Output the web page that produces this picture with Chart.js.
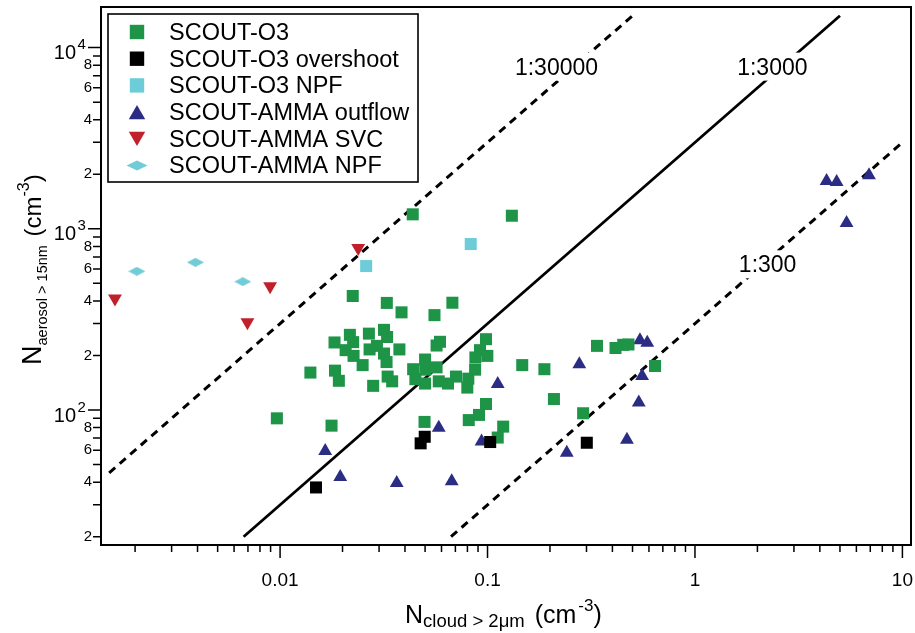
<!DOCTYPE html>
<html>
<head>
<meta charset="utf-8">
<script src="https://cdn.jsdelivr.net/npm/chart.js@4.4.1/dist/chart.umd.min.js"></script>
<style>
html,body{margin:0;padding:0;background:#fff;}
#wrap{width:915px;height:633px;position:relative;}
</style>
</head>
<body>
<div id="wrap"><canvas id="c" width="915" height="633"></canvas></div>
<script>
// ---------------- data ----------------
const SERIES_NAMES = ['SCOUT-O3', 'SCOUT-O3 overshoot', 'SCOUT-O3 NPF', 'SCOUT-AMMA outflow', 'SCOUT-AMMA SVC', 'SCOUT-AMMA NPF'];

const O3_X = [0.0436, 0.131, 0.0224, 0.0327, 0.0385, 0.0555, 0.0677, 0.0183, 0.0217, 0.0225, 0.0268, 0.0317, 0.0328, 0.0207, 0.0226, 0.0250, 0.0270, 0.0293, 0.0317, 0.0326, 0.0376, 0.0140, 0.0184, 0.0192, 0.0281, 0.0330, 0.0347, 0.0438, 0.0449, 0.0500, 0.0501, 0.0500, 0.0568, 0.0582, 0.0645, 0.0705, 0.0568, 0.0590, 0.0808, 0.0799, 0.0871, 0.0874, 0.0998, 0.0920, 0.0983, 0.147, 0.188, 0.209, 0.289, 0.337, 0.414, 0.451, 0.478, 0.642, 0.00965, 0.0177, 0.0497, 0.0983, 0.0910, 0.0812, 0.119, 0.112];
const O3_Y = [1202, 1181, 426, 390, 346, 334, 391, 236, 260, 237, 264, 277, 253, 214, 199, 177, 216, 226, 205, 184, 216, 161, 165, 145, 136, 153, 144, 168, 148, 190, 167, 140, 172, 144, 140, 153, 227, 238, 149, 133, 167, 195, 199, 214, 246, 177, 168, 115, 96, 226, 220, 229, 230, 175, 90, 82, 86, 108, 94, 88, 81, 70.5];

const OVERSHOOT_X = [0.0149, 0.0476, 0.0498, 0.103, 0.301];
const OVERSHOOT_Y = [37.4, 65.5, 71.2, 66.6, 66.0];

const O3_NPF_X = [0.0260, 0.0830];
const O3_NPF_Y = [623, 824];

const OUTFLOW_X = [0.0165, 0.0195, 0.0365, 0.0672, 0.0582, 0.112, 0.0936, 0.241, 0.277, 0.470, 0.536, 0.556, 0.543, 0.589, 4.31, 4.82, 6.90, 5.38];
const OUTFLOW_Y = [59.4, 42.7, 39.6, 40.4, 79.9, 139, 67.0, 58.1, 179, 68.6, 110, 154, 243, 235, 1835, 1812, 1974, 1077];

const SVC_X = [0.00160, 0.00696, 0.00895, 0.0238];
const SVC_Y = [412, 305, 482, 783];

const AMMA_NPF_X = [0.00204, 0.00391, 0.00661];
const AMMA_NPF_Y = [583, 653, 511];

// ratio lines (end points)
const LINE_30000_X = [0.0015, 0.5];
const LINE_30000_Y = [45, 15000];
const LINE_3000_X = [0.00667, 5];
const LINE_3000_Y = [20, 15000];
const LINE_300_X = [0.0667, 10];
const LINE_300_Y = [20, 3000];

const LINE_LABELS = ['1:30000', '1:3000', '1:300'];
const LINE_LABEL_X = [0.215, 2.36, 2.24];
const LINE_LABEL_Y = [7850, 7850, 637];

// axes
const X_MIN = 0.00137, X_MAX = 11.0;
const Y_MIN = 18.0, Y_MAX = 16750;
const X_MAJOR_TICKS = [0.01, 0.1, 1, 10];
const X_MAJOR_LABELS = ['0.01', '0.1', '1', '10'];
const X_MINOR_TICKS = [0.002, 0.003, 0.004, 0.005, 0.006, 0.007, 0.008, 0.009,
  0.02, 0.03, 0.04, 0.05, 0.06, 0.07, 0.08, 0.09,
  0.2, 0.3, 0.4, 0.5, 0.6, 0.7, 0.8, 0.9,
  2, 3, 4, 5, 6, 7, 8, 9];
const Y_MAJOR_TICKS = [100, 1000, 10000];
const Y_MAJOR_BASES = ['10', '10', '10'];
const Y_MAJOR_EXPONENTS = ['2', '3', '4'];
const Y_MINOR_TICKS = [20, 30, 40, 50, 60, 70, 80, 90,
  200, 300, 400, 500, 600, 700, 800, 900,
  2000, 3000, 4000, 5000, 6000, 7000, 8000, 9000];
const Y_MINOR_LABELS = ['2', '', '4', '', '6', '', '8', '',
  '2', '', '4', '', '6', '', '8', '',
  '2', '', '4', '', '6', '', '8', ''];

// ---------------- styling ----------------
const FONT = '"Liberation Sans", Arial, Helvetica, sans-serif';
const GREEN = '#1e9447', BLACK = '#000000', CYAN_SQ = '#6ccdd9', NAVY = '#2b2d85', RED = '#c1202a', CYAN_DIA = '#72ccd8';

function pts(xs, ys) { return xs.map((v, i) => ({ x: v, y: ys[i] })); }

function diamondCanvas(w, h, color) {
  const c = document.createElement('canvas');
  c.width = w; c.height = h;
  const g = c.getContext('2d');
  g.fillStyle = color;
  g.beginPath();
  g.moveTo(w / 2, 0); g.lineTo(w, h / 2); g.lineTo(w / 2, h); g.lineTo(0, h / 2);
  g.closePath(); g.fill();
  return c;
}

const DIAMOND = diamondCanvas(17, 9, CYAN_DIA);

const LEGEND_STYLES = [
  { kind: 'rect', color: GREEN },
  { kind: 'rect', color: BLACK },
  { kind: 'rect', color: CYAN_SQ },
  { kind: 'up', color: NAVY },
  { kind: 'down', color: RED },
  { kind: 'diamond', color: CYAN_DIA }
];

function drawParts(ctx, parts) {
  let cx = 0;
  parts.forEach(p => {
    ctx.font = p.size + 'px ' + FONT;
    cx += (p.pre || 0);
    ctx.fillText(p.t, cx, p.dy || 0);
    cx += ctx.measureText(p.t).width;
  });
}

function zeroPad(s) { s.paddingLeft = 0; s.paddingRight = 0; s.paddingTop = 0; s.paddingBottom = 0; }

const customPlugin = {
  id: 'customDecor',
  afterDatasetsDraw(chart) {
    const { ctx, scales: { x, y } } = chart;
    ctx.save();
    ctx.font = '23px ' + FONT;
    ctx.textAlign = 'center';
    ctx.textBaseline = 'alphabetic';
    LINE_LABELS.forEach((t, i) => {
      const px = x.getPixelForValue(LINE_LABEL_X[i]);
      const py = y.getPixelForValue(LINE_LABEL_Y[i]);
      const w = ctx.measureText(t).width;
      ctx.fillStyle = '#fff';
      ctx.fillRect(px - w / 2 - 3, py - 14, w + 6, 28);
      ctx.fillStyle = '#000';
      ctx.fillText(t, px, py + 8);
    });
    ctx.restore();
  },
  afterDraw(chart) {
    const { ctx, chartArea: a, scales: { x, y } } = chart;
    ctx.save();
    // frame
    ctx.strokeStyle = '#000';
    ctx.lineWidth = 2;
    ctx.strokeRect(a.left, a.top, a.right - a.left, a.bottom - a.top);
    // tick marks
    ctx.lineWidth = 1.5;
    ctx.beginPath();
    X_MAJOR_TICKS.forEach(v => { const p = x.getPixelForValue(v); ctx.moveTo(p, a.bottom); ctx.lineTo(p, a.bottom + 13); });
    X_MINOR_TICKS.forEach(v => { const p = x.getPixelForValue(v); ctx.moveTo(p, a.bottom); ctx.lineTo(p, a.bottom + 7); });
    Y_MAJOR_TICKS.forEach(v => { const p = y.getPixelForValue(v); ctx.moveTo(a.left, p); ctx.lineTo(a.left - 13, p); });
    Y_MINOR_TICKS.forEach(v => { const p = y.getPixelForValue(v); ctx.moveTo(a.left, p); ctx.lineTo(a.left - 8, p); });
    ctx.stroke();
    // y major labels: 10 with superscript exponent
    ctx.fillStyle = '#000';
    ctx.textBaseline = 'alphabetic';
    Y_MAJOR_TICKS.forEach((v, i) => {
      const p = y.getPixelForValue(v);
      ctx.font = '20px ' + FONT;
      ctx.textAlign = 'right';
      ctx.fillText(Y_MAJOR_BASES[i], a.left - 25, p + 11.5);
      ctx.font = '15px ' + FONT;
      ctx.textAlign = 'left';
      ctx.fillText(Y_MAJOR_EXPONENTS[i], a.left - 23.5, p + 1.5);
    });
    // x axis title
    ctx.textAlign = 'left';
    ctx.save();
    ctx.translate(405, 623.3);
    drawParts(ctx, [
      { t: 'N', size: 25 },
      { t: 'cloud > 2\u03bcm', size: 18.5, dy: 4 },
      { t: ' (cm', size: 25, pre: 3 },
      { t: '-3', size: 17, dy: -12.5, pre: 2 },
      { t: ')', size: 25 }
    ]);
    ctx.restore();
    // y axis title (rotated)
    ctx.save();
    ctx.translate(41, 365);
    ctx.rotate(-Math.PI / 2);
    drawParts(ctx, [
      { t: 'N', size: 27 },
      { t: 'aerosol > 15nm', size: 14.5, dy: 6 },
      { t: ' (cm', size: 24, pre: 2 },
      { t: '-3', size: 16, dy: -12 },
      { t: ')', size: 24 }
    ]);
    ctx.restore();
    // legend box
    const L = { x: 108, y: 14, w: 310, h: 168, mx: 137, tx: 169, row0: 32, step: 26.7 };
    ctx.fillStyle = '#fff';
    ctx.fillRect(L.x, L.y, L.w, L.h);
    ctx.strokeStyle = '#000';
    ctx.lineWidth = 1.6;
    ctx.strokeRect(L.x, L.y, L.w, L.h);
    SERIES_NAMES.forEach((name, i) => {
      const ry = L.row0 + L.step * i;
      const st = LEGEND_STYLES[i];
      ctx.fillStyle = st.color;
      ctx.beginPath();
      if (st.kind === 'rect') {
        ctx.rect(L.mx - 7.2, ry - 7.2, 14.4, 14.4);
      } else if (st.kind === 'up') {
        const r = 9.5, cy = ry + r / 4;
        ctx.moveTo(L.mx, cy - r); ctx.lineTo(L.mx + r * 0.866, cy + r / 2); ctx.lineTo(L.mx - r * 0.866, cy + r / 2); ctx.closePath();
      } else if (st.kind === 'down') {
        const r = 9.5, cy = ry - r / 4;
        ctx.moveTo(L.mx, cy + r); ctx.lineTo(L.mx + r * 0.866, cy - r / 2); ctx.lineTo(L.mx - r * 0.866, cy - r / 2); ctx.closePath();
      } else {
        ctx.moveTo(L.mx - 10.5, ry); ctx.lineTo(L.mx, ry - 5); ctx.lineTo(L.mx + 10.5, ry); ctx.lineTo(L.mx, ry + 5); ctx.closePath();
      }
      ctx.fill();
      ctx.fillStyle = '#000';
      ctx.font = '23.5px ' + FONT;
      ctx.textAlign = 'left';
      ctx.fillText(name, L.tx, ry + 7.8);
    });
    ctx.restore();
  }
};

const lineStyle = { showLine: true, borderColor: '#000', pointRadius: 0, pointHoverRadius: 0, fill: false, tension: 0, order: 10 };

new Chart(document.getElementById('c'), {
  type: 'scatter',
  data: {
    datasets: [
      { label: SERIES_NAMES[0], data: pts(O3_X, O3_Y), pointStyle: 'rect', pointRadius: 8.5, backgroundColor: GREEN, borderWidth: 0, order: 1 },
      { label: SERIES_NAMES[1], data: pts(OVERSHOOT_X, OVERSHOOT_Y), pointStyle: 'rect', pointRadius: 8.5, backgroundColor: BLACK, borderWidth: 0, order: 0 },
      { label: SERIES_NAMES[2], data: pts(O3_NPF_X, O3_NPF_Y), pointStyle: 'rect', pointRadius: 8.5, backgroundColor: CYAN_SQ, borderWidth: 0, order: 2 },
      { label: SERIES_NAMES[3], data: pts(OUTFLOW_X, OUTFLOW_Y), pointStyle: 'triangle', pointRadius: 8, backgroundColor: NAVY, borderWidth: 0, order: 3 },
      { label: SERIES_NAMES[4], data: pts(SVC_X, SVC_Y), pointStyle: 'triangle', pointRotation: 180, pointRadius: 8, backgroundColor: RED, borderWidth: 0, order: 4 },
      { label: SERIES_NAMES[5], data: pts(AMMA_NPF_X, AMMA_NPF_Y), pointStyle: DIAMOND, pointRadius: 8, backgroundColor: CYAN_DIA, borderWidth: 0, order: 5 },
      Object.assign({ label: '1:30000', data: pts(LINE_30000_X, LINE_30000_Y), borderWidth: 3, borderDash: [8, 6] }, lineStyle),
      Object.assign({ label: '1:3000', data: pts(LINE_3000_X, LINE_3000_Y), borderWidth: 2.8 }, lineStyle),
      Object.assign({ label: '1:300', data: pts(LINE_300_X, LINE_300_Y), borderWidth: 3, borderDash: [8, 6] }, lineStyle)
    ]
  },
  options: {
    responsive: false,
    devicePixelRatio: 1,
    animation: false,
    events: [],
    layout: { autoPadding: false, padding: { top: 7, right: 4, left: 0, bottom: 0 } },
    plugins: { legend: { display: false }, tooltip: { enabled: false } },
    scales: {
      x: {
        type: 'logarithmic', position: 'bottom', min: X_MIN, max: X_MAX,
        afterBuildTicks: s => { s.ticks = X_MAJOR_TICKS.map(v => ({ value: v })); },
        afterFit: s => { s.height = 88; zeroPad(s); },
        ticks: { autoSkip: false, maxRotation: 0, minRotation: 0, padding: 11, color: '#000',
          font: { family: FONT, size: 19 }, callback: (v, i) => X_MAJOR_LABELS[i] },
        grid: { display: true, drawOnChartArea: false, drawTicks: true, tickLength: 13, tickColor: 'rgba(0,0,0,0)', color: 'rgba(0,0,0,0)' },
        border: { display: false },
        title: { display: false }
      },
      y: {
        type: 'logarithmic', position: 'left', min: Y_MIN, max: Y_MAX,
        afterBuildTicks: s => { s.ticks = Y_MINOR_TICKS.map(v => ({ value: v })); },
        afterFit: s => { s.width = 101; zeroPad(s); },
        ticks: { autoSkip: false, padding: 1, color: '#000',
          font: { family: FONT, size: 15 }, callback: (v, i) => Y_MINOR_LABELS[i] },
        grid: { display: true, drawOnChartArea: false, drawTicks: true, tickLength: 8, tickColor: 'rgba(0,0,0,0)', color: 'rgba(0,0,0,0)' },
        border: { display: false },
        title: { display: false }
      }
    }
  },
  plugins: [customPlugin]
});
</script>
</body>
</html>
